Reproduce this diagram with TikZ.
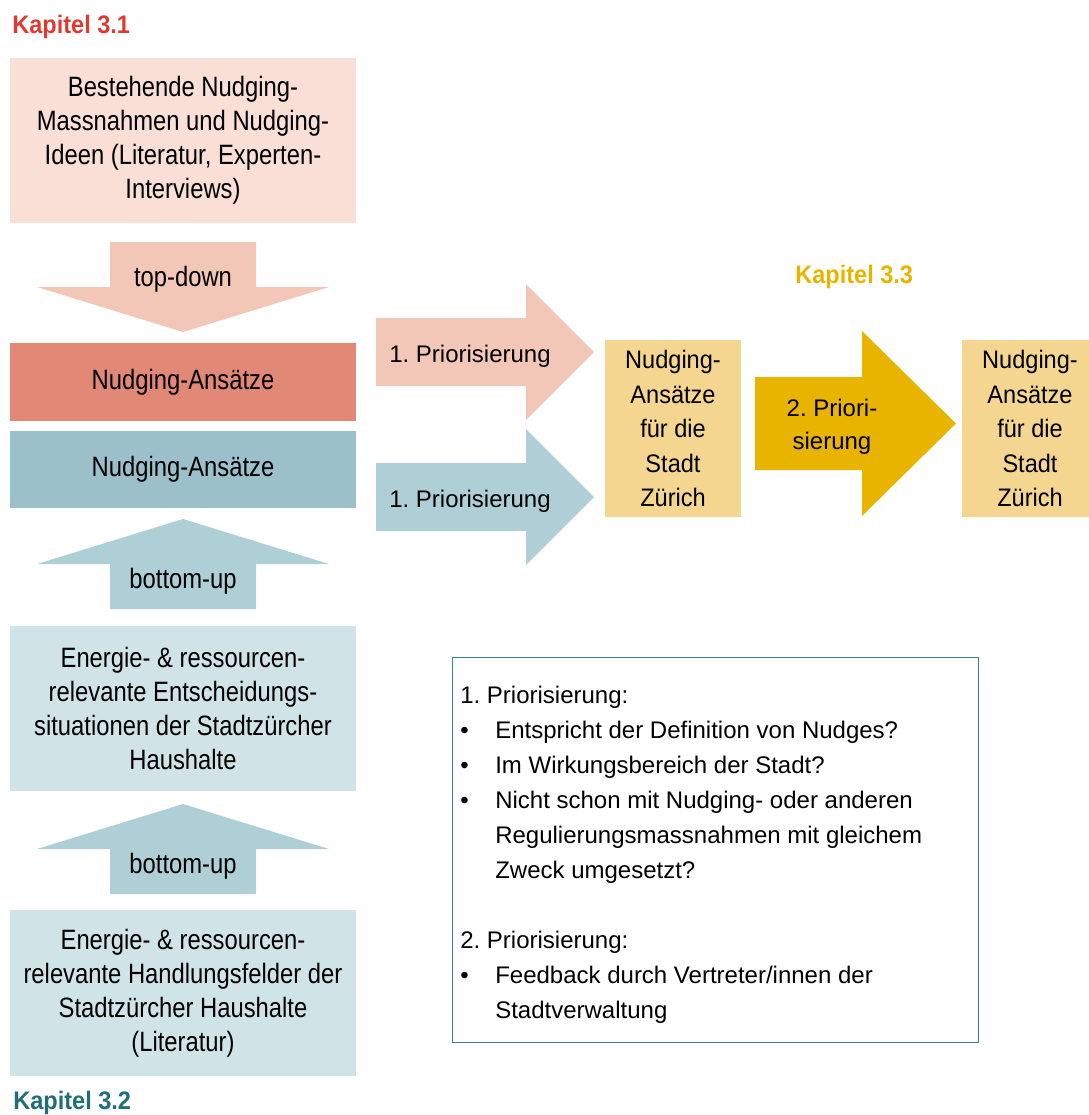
\documentclass[tikz,border=0pt]{standalone}
\usepackage{fontspec}
\setmainfont{Liberation Sans}
\newfontfamily\tallfont{Liberation Sans}[FakeStretch=0.85]
\newfontfamily\midfont{Liberation Sans}[FakeStretch=0.93]
\frenchspacing

\definecolor{boxpink}{HTML}{F9DFD5}
\definecolor{arrowpink}{HTML}{F3C7B8}
\definecolor{ansatzred}{HTML}{E28876}
\definecolor{ansatzteal}{HTML}{9CC0C9}
\definecolor{arrowteal}{HTML}{AECFD5}
\definecolor{boxteal}{HTML}{D0E4E8}
\definecolor{boxyellow}{HTML}{F4D690}
\definecolor{arrowgold}{HTML}{E8B400}
\definecolor{kapred}{HTML}{E03A2F}
\definecolor{kapteal}{HTML}{1F6E78}
\definecolor{framecol}{HTML}{3C8089}

\begin{document}
\begin{tikzpicture}[x=0.75pt, y=-0.75pt,
    every node/.style={inner sep=0pt},
    kapitel/.style={font=\midfont\bfseries\fontsize{19}{22}\selectfont},
    leftbox/.style={minimum width=259.5pt, align=center,
        font=\tallfont\fontsize{21}{25.5}\selectfont},
    lefttext/.style={font=\tallfont\fontsize{21}{25.5}\selectfont},
    righttext/.style={font=\fontsize{18}{24.75}\selectfont, align=center},
    yellowbox/.style={fill=boxyellow, minimum width=102pt, minimum height=132.75pt,
        align=center, font=\midfont\fontsize{19}{25.9}\selectfont}]

    \useasboundingbox (0,0) rectangle (1089,1115);

    % linke Spalte, top-down
    \node[kapitel, text=kapred, anchor=base west] (kap31) at (12,33) {Kapitel 3.1};
    \node[leftbox, fill=boxpink, minimum height=123.75pt] (ideen) at (183,140.5)
        {Bestehende Nudging-\\Massnahmen und Nudging-\\Ideen (Literatur, Experten-\\Interviews)};

    \fill[arrowpink] (110,242) -- ++(146,0) -- ++(0,45) -- ++(73,0)
        -- ++(-146,45) -- ++(-146,-45) -- ++(73,0) -- cycle;
    \node[lefttext] (topdown) at (183,279) {top-down};

    \node[leftbox, fill=ansatzred, minimum height=58.5pt] (ansatzrot) at (183,382) {Nudging-Ansätze};
    \node[leftbox, fill=ansatzteal, minimum height=57.75pt] (ansatzblau) at (183,469.5) {Nudging-Ansätze};

    % linke Spalte, bottom-up
    \fill[arrowteal] (110,609) -- ++(0,-45) -- ++(-73,0) -- ++(146,-45)
        -- ++(146,45) -- ++(-73,0) -- ++(0,45) -- cycle;
    \node[lefttext] (bottomupA) at (183,581) {bottom-up};

    \node[leftbox, fill=boxteal, minimum height=123.75pt] (entscheid) at (183,708.5)
        {Energie- \& ressourcen-\\relevante Entscheidungs-\\situationen der Stadtzürcher\\Haushalte};

    \fill[arrowteal] (110,894) -- ++(0,-45) -- ++(-73,0) -- ++(146,-45)
        -- ++(146,45) -- ++(-73,0) -- ++(0,45) -- cycle;
    \node[lefttext] (bottomupB) at (183,866) {bottom-up};

    \node[leftbox, fill=boxteal, minimum height=124.5pt] (handlung) at (183,993)
        {Energie- \& ressourcen-\\relevante Handlungsfelder der\\Stadtzürcher Haushalte\\(Literatur)};
    \node[kapitel, text=kapteal, anchor=base west] (kap32) at (13,1109) {Kapitel 3.2};

    % rechte Seite
    \fill[arrowpink] (376,318) -- (526,318) -- (526,284) -- (594,352)
        -- (526,420) -- (526,386) -- (376,386) -- cycle;
    \node[righttext, anchor=west] (prioA) at (389,356) {1. Priorisierung};

    \fill[arrowteal] (376,463) -- (526,463) -- (526,429) -- (594,497)
        -- (526,565) -- (526,531) -- (376,531) -- cycle;
    \node[righttext, anchor=west] (prioB) at (389,501) {1. Priorisierung};

    \node[yellowbox] (stadtA) at (673,428.5) {Nudging-\\Ansätze\\für die\\Stadt\\Zürich};

    \node[kapitel, text=arrowgold, anchor=base west] (kap33) at (795,283) {Kapitel 3.3};
    \fill[arrowgold] (755,377) -- (862,377) -- (862,331) -- (956,423.5)
        -- (862,516) -- (862,470) -- (755,470) -- cycle;
    \node[righttext] (prioC) at (832,427) {2. Priori-\\sierung};

    \node[yellowbox] (stadtB) at (1030,428.5) {Nudging-\\Ansätze\\für die\\Stadt\\Zürich};

    % Kriterien
    \node[draw=framecol, line width=0.75pt, minimum width=394.5pt, minimum height=288.75pt]
        (kriterien) at (715,849.5) {};
    \node[anchor=north west, align=left, font=\fontsize{18}{26.25}\selectfont] (kriterientext) at (460,686)
        {1. Priorisierung:\\
         \makebox[26.25pt][l]{\textbullet}Entspricht der Definition von Nudges?\\
         \makebox[26.25pt][l]{\textbullet}Im Wirkungsbereich der Stadt?\\
         \makebox[26.25pt][l]{\textbullet}Nicht schon mit Nudging- oder anderen\\
         \hspace*{26.25pt}Regulierungsmassnahmen mit gleichem\\
         \hspace*{26.25pt}Zweck umgesetzt?\\[26.25pt]
         2. Priorisierung:\\
         \makebox[26.25pt][l]{\textbullet}Feedback durch Vertreter/innen der\\
         \hspace*{26.25pt}Stadtverwaltung};
\end{tikzpicture}
\end{document}
